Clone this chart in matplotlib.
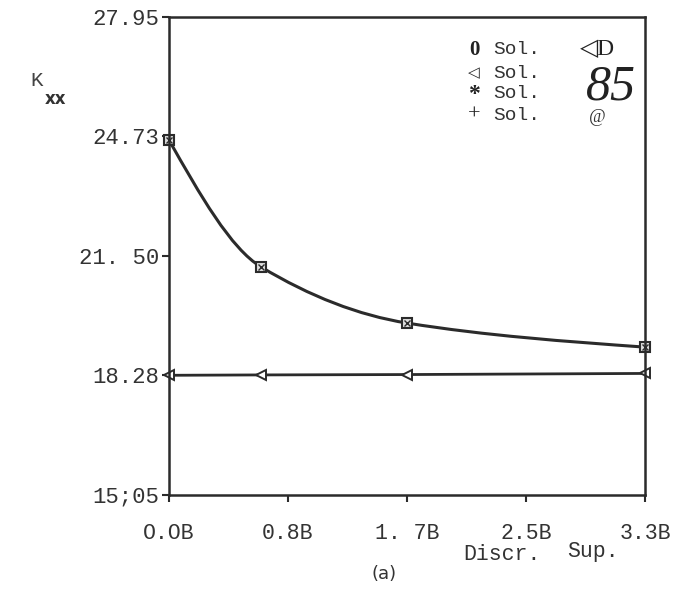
import numpy as np
import matplotlib
matplotlib.use("Agg")
import matplotlib.pyplot as plt
from matplotlib.path import Path
from matplotlib.patches import PathPatch

# data
disc_x = [0.0, 0.64, 1.65, 3.3]
sol_upper = [24.63, 21.20, 19.69, 19.04]
sol_lower = [18.28, 18.29, 18.30, 18.33]

y_ticks = [15.05, 18.28, 21.50, 24.73, 27.95]
y_labels = ["15;05", "18.28", "21. 50", "24.73", "27.95"]
x_ticks = [0.0, 0.825, 1.65, 2.475, 3.3]
x_labels = ["O.OB", "0.8B", "1. 7B", "2.5B", "3.3B"]

MONO = "Liberation Mono"
INK = "#2b2b2b"


def smooth_path(xs, ys):
    """monotone cubic bezier path through the given points"""
    xs = np.asarray(xs, float)
    ys = np.asarray(ys, float)
    h = np.diff(xs)
    d = np.diff(ys) / h
    m = np.zeros_like(xs)
    for i in range(1, len(xs) - 1):
        m[i] = 2.0 / (1.0 / d[i - 1] + 1.0 / d[i]) if d[i - 1] * d[i] > 0 else 0.0
    m[0] = (3 * d[0] - m[1]) / 2
    m[-1] = (3 * d[-1] - m[-2]) / 2
    verts = [(xs[0], ys[0])]
    codes = [Path.MOVETO]
    for i in range(len(xs) - 1):
        verts += [(xs[i] + h[i] / 3, ys[i] + m[i] * h[i] / 3),
                  (xs[i + 1] - h[i] / 3, ys[i + 1] - m[i + 1] * h[i] / 3),
                  (xs[i + 1], ys[i + 1])]
        codes += [Path.CURVE4] * 3
    return Path(verts, codes)


fig = plt.figure(figsize=(6.77, 5.92), dpi=100)
ax = fig.add_axes([0.2496, 0.1639, 0.7031, 0.8074])

ax.add_patch(PathPatch(smooth_path(disc_x, sol_upper), fill=False,
                       edgecolor=INK, lw=2.2))
ax.plot(disc_x, sol_upper, ls="none", marker="s", ms=7, mfc="#dddddd",
        mec=INK, mew=1.5, clip_on=False)
ax.plot(disc_x, sol_upper, ls="none", marker="x", ms=5, mec=INK, mew=1,
        clip_on=False)

ax.plot(disc_x, sol_lower, color=INK, lw=2.0, marker="<", ms=7,
        mfc="white", mec=INK, mew=1.4, clip_on=False)

ax.set_xlim(0, 3.3)
ax.set_ylim(15.05, 27.95)
ax.set_xticks(x_ticks)
ax.set_xticklabels(x_labels, family=MONO, fontsize=15.5, color="#333333")
ax.set_yticks(y_ticks)
ax.set_yticklabels(y_labels, family=MONO, fontsize=16, color="#333333")
ax.tick_params(axis="y", direction="out", length=5, width=1.5, colors=INK,
               labelcolor="#333333", pad=2)
ax.tick_params(axis="x", direction="out", length=5, width=1.5, colors=INK,
               labelcolor="#333333", pad=15)
for s in ax.spines.values():
    s.set_color(INK)
    s.set_linewidth(1.8)

# axis label K_xx
fig.text(30 / 677, 1 - 80 / 592, "K", family=MONO, fontsize=15,
         color="#444444", va="center", ha="left")
fig.text(45 / 677, 1 - 99 / 592, "xx", family="DejaVu Sans", fontsize=12,
         fontweight="bold", color="#333333", va="center", ha="left")

# legend block as in the scan
rows_y = [50, 73, 94, 115]
syms = ["0", "\u25c1", "*", "+"]
sym_fam = [["Liberation Serif"], ["DejaVu Sans"], ["Liberation Serif"], ["Liberation Serif"]]
sym_wt = ["bold", "bold", "bold", "normal"]
sym_size = [15, 11, 17, 16]
for yy, sy, fam, wt, fs in zip(rows_y, syms, sym_fam, sym_wt, sym_size):
    fig.text(474 / 677, 1 - yy / 592, sy, family=fam, fontweight=wt,
             fontsize=fs, color="#222222", ha="center", va="center")
    fig.text(493 / 677, 1 - yy / 592, "Sol.", family=MONO, fontsize=14,
             color="#333333", ha="left", va="center")
fig.text(580 / 677, 1 - 50 / 592, "\u25c1D",
         family=["Liberation Serif", "DejaVu Sans"],
         fontsize=17, color="#222222", ha="left", va="center")
fig.text(586 / 677, 1 - 87 / 592, "85", family="Liberation Serif",
         style="italic", fontsize=36, color="#222222", ha="left", va="center")
fig.text(589 / 677, 1 - 118 / 592, "@", family="Liberation Serif",
         style="italic", fontsize=13, color="#333333", ha="left", va="center")

# bottom annotations
fig.text(463 / 677, 1 - 554 / 592, "Discr.", family=MONO, fontsize=15.5,
         color="#333333", ha="left", va="center")
fig.text(567 / 677, 1 - 552 / 592, "Sup.", family=MONO, fontsize=15.5,
         color="#333333", ha="left", va="center")
fig.text(384 / 677, 1 - 574 / 592, "(a)", family="DejaVu Sans", fontsize=13,
         color="#333333", ha="center", va="center")

fig.savefig("out.png", dpi=100)
